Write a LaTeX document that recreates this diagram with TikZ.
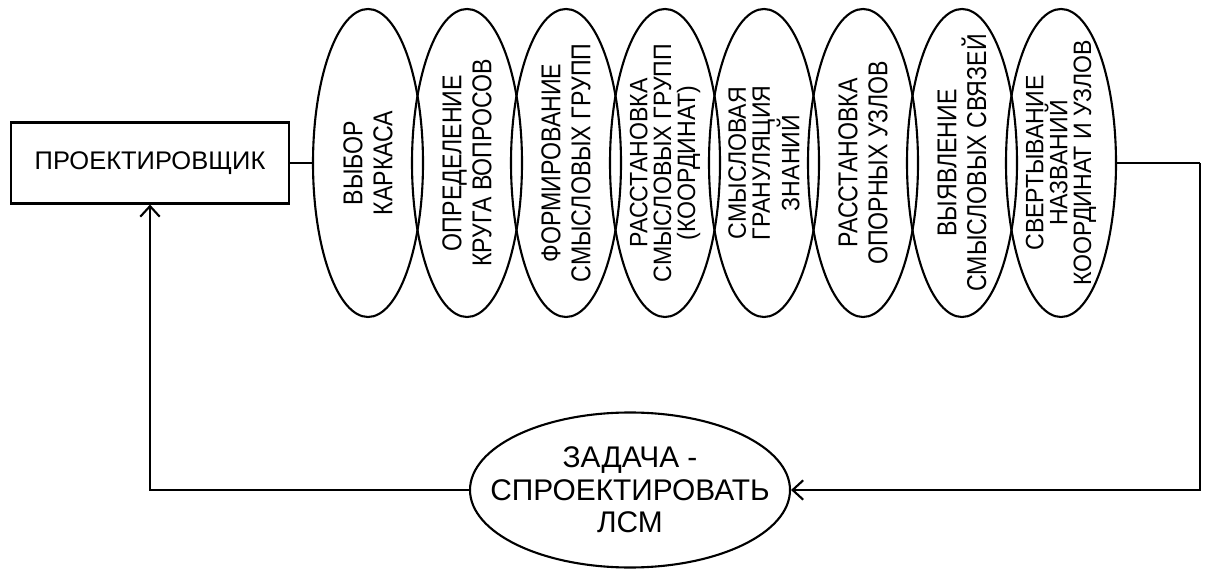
\documentclass[tikz,border=0pt]{standalone}
\usepackage{fontspec}
\setmainfont{Liberation Sans}
\newfontfamily\narrowfont{Liberation Sans}[FakeStretch=0.85]
\newfontfamily\semifont{Liberation Sans}[FakeStretch=0.92]
\usetikzlibrary{shapes.geometric, arrows.meta, positioning}

\tikzset{
  stage/.style={draw, ellipse, minimum width=2.2cm, minimum height=6.16cm, inner sep=0pt},
  twoline/.style={rotate=90, align=center, font=\narrowfont\fontsize{15.5}{17}\selectfont},
  threeline/.style={rotate=90, align=center, font=\semifont\fontsize{14.3}{13.6}\selectfont},
}

\begin{document}
\begin{tikzpicture}[line width=1.2pt, >={Straight Barb[length=6pt,width=11pt]}]
    \useasboundingbox (0,0) rectangle (24.1,-11.44);

    % Designer box
    \node[draw, minimum width=5.56cm, minimum height=1.62cm, font=\fontsize{14.5}{16}\selectfont] (designer) at (3.0,-3.26) {ПРОЕКТИРОВЩИК};

    % Stages of design
    \foreach \txt/\look [count=\i] in {{ВЫБОР\\КАРКАСА}/twoline, {ОПРЕДЕЛЕНИЕ\\КРУГА ВОПРОСОВ}/twoline, {ФОРМИРОВАНИЕ\\СМЫСЛОВЫХ ГРУПП}/twoline, {РАССТАНОВКА\\СМЫСЛОВЫХ ГРУПП\\(КООРДИНАТ)}/threeline, {СМЫСЛОВАЯ\\ГРАНУЛЯЦИЯ\\ЗНАНИЙ}/threeline, {РАССТАНОВКА\\ОПОРНЫХ УЗЛОВ}/twoline, {ВЫЯВЛЕНИЕ\\СМЫСЛОВЫХ СВЯЗЕЙ}/twoline, {СВЕРТЫВАНИЕ\\НАЗВАНИЙ\\КООРДИНАТ И УЗЛОВ}/threeline} {
        \node[stage] (s\i) at ({7.36+1.98*(\i-1)},-3.26) {};
        \node[\look] (t\i) at (s\i) {\txt};
    }

    % Task
    \node[draw, ellipse, minimum width=6.4cm, minimum height=3.1cm] (task) at (12.6,-9.8) {};
    \node[align=center, font=\fontsize{17}{18.5}\selectfont] (tasktext) at (task) {ЗАДАЧА -\\СПРОЕКТИРОВАТЬ\\ЛСМ};

    % Connections
    \coordinate (turn) at (24.0,-3.26);
    \draw (designer.east) -- (s1.west);
    \draw (s8.east) -- (turn);
    \draw[->] (turn) |- (task.east);
    \draw[->] (task.west) -| (designer.south);
\end{tikzpicture}
\end{document}
